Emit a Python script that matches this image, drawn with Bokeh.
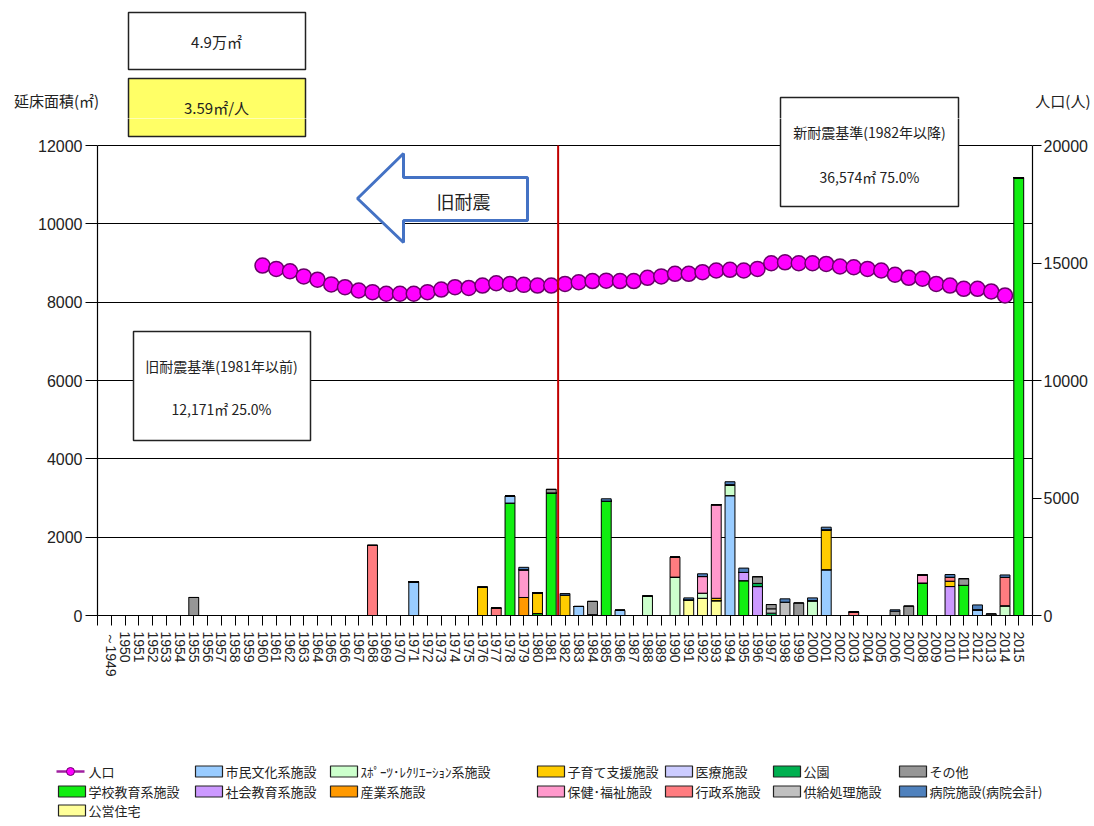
import numpy as np
from bokeh.plotting import figure
from bokeh.models import (ColumnDataSource, Range1d, LinearAxis, FixedTicker,
                          Label, BoxAnnotation)
from bokeh.core.properties import value
from bokeh.embed import file_html
from bokeh.resources import INLINE

# ---------------- data ----------------
categories = ["～1949"] + [str(y) for y in range(1950, 2016)]

pop_years = [str(y) for y in range(1960, 2015)]
population = [14890, 14750, 14650, 14430, 14290, 14090, 13970, 13830, 13760, 13690,
              13690, 13690, 13760, 13870, 13970, 13940, 14040, 14140, 14110, 14070,
              14040, 14040, 14110, 14180, 14230, 14250, 14230, 14230, 14370, 14430,
              14540, 14540, 14610, 14680, 14710, 14680, 14750, 14990, 15030, 14990,
              14990, 14960, 14850, 14820, 14750, 14680, 14500, 14370, 14330, 14110,
              14040, 13900, 13900, 13790, 13620]

school = {"1978": 2870, "1980": 50, "1981": 3130, "1985": 2920, "1995": 890,
          "2008": 830, "2011": 770, "2015": 11180}
housing = {"1991": 400, "1992": 440, "1993": 380}
culture = {"1971": 860, "1978": 180, "1983": 230, "1986": 130, "1994": 3060,
           "2001": 1170, "2012": 150}
social_edu = {"1995": 210, "1996": 740, "2010": 740}
sports = {"1988": 490, "1990": 980, "1992": 130, "1994": 280, "2000": 380, "2014": 250}
industry = {"1979": 460, "1984": 20}
childcare = {"1976": 720, "1980": 530, "1982": 520, "1993": 60, "2001": 1020, "2010": 136}
welfare = {"1979": 710, "1992": 425, "1993": 2390, "2008": 200}
medical = {}
admin = {"1968": 1790, "1977": 190, "1990": 510, "2003": 90, "2010": 100, "2014": 725}
park = {"1996": 80, "1997": 60}
supply = {"1997": 110, "1998": 340}
other = {"1955": 460, "1981": 90, "1984": 340, "1996": 170, "1997": 110, "1999": 320,
         "2006": 110, "2007": 240, "2011": 170, "2013": 40}
hospital = {"1979": 60, "1982": 40, "1985": 60, "1991": 50, "1992": 70, "1994": 75,
            "1995": 110, "1998": 85, "2000": 70, "2001": 65, "2006": 35, "2010": 70,
            "2012": 120, "2014": 60}

series_names = ["学校教育系施設", "公営住宅", "市民文化系施設", "社会教育系施設",
                "ｽﾎﾟｰﾂ･ﾚｸﾘｴｰｼｮﾝ系施設", "産業系施設", "子育て支援施設", "保健･福祉施設",
                "医療施設", "行政系施設", "公園", "供給処理施設", "その他", "病院施設(病院会計)"]
series_data = [school, housing, culture, social_edu, sports, industry, childcare,
               welfare, medical, admin, park, supply, other, hospital]
series_colors = ["#11EE11", "#FFFF99", "#99CCFF", "#CC99FF", "#CCFFCC", "#FF9900",
                 "#FFCC00", "#FF99CC", "#CCCCFF", "#FF7C80", "#00B050", "#C0C0C0",
                 "#969696", "#4F81BD"]

left_ticks = [0, 2000, 4000, 6000, 8000, 10000, 12000]
right_ticks = [0, 5000, 10000, 15000, 20000]

# ---------------- page layout (px) ----------------
W = 1094
TOP_H = 118          # top strip: page y 0..118
MAIN_BOTTOM = 700    # main figure: page y 118..700
PAGE_H = 820         # legend strip: page y 700..820
FL, FR, FT, FB = 97, 1032, 145, 615
N = len(categories)

JP = "Noto Sans CJK JP"
NUM = "Liberation Sans"
INK = "#222222"


def dx(px):
    return -1 + (px - FL) * (N + 1) / (FR - FL)


def dy(py):
    return (FB - py) * left_ticks[-1] / (FB - FT)


def strip(y0, y1):
    f = figure(width=W, height=y1 - y0, x_range=Range1d(0, W), y_range=Range1d(y1, y0),
               output_backend="svg", toolbar_location=None, min_border=0,
               x_axis_type=None, y_axis_type=None)
    f.outline_line_color = None
    f.grid.visible = False
    f.background_fill_color = "white"
    f.border_fill_color = "white"
    return f


top = strip(0, TOP_H)
leg = strip(MAIN_BOTTOM, PAGE_H)

y_end = dy(TOP_H)
p = figure(width=W, height=MAIN_BOTTOM - TOP_H, x_range=Range1d(-1, N),
           y_range=Range1d(0, y_end), output_backend="svg", toolbar_location=None,
           min_border_left=FL, min_border_right=W - FR, min_border_top=0,
           min_border_bottom=MAIN_BOTTOM - FB)
p.outline_line_color = None
p.background_fill_color = "white"
p.border_fill_color = "white"
p.extra_y_ranges = {"pop": Range1d(0, y_end * right_ticks[-1] / left_ticks[-1])}

# axes
ya = p.yaxis[0]
ya.ticker = FixedTicker(ticks=left_ticks)
ya.bounds = (0, left_ticks[-1])
xa = p.xaxis[0]
xa.ticker = FixedTicker(ticks=list(range(-1, N + 1)))
overrides = {i: c for i, c in enumerate(categories)}
overrides[-1] = ""
overrides[N] = ""
xa.major_label_overrides = overrides
xa.major_label_orientation = -np.pi / 2
ra = LinearAxis(y_range_name="pop", ticker=FixedTicker(ticks=right_ticks),
                bounds=(0, right_ticks[-1]))
p.add_layout(ra, "right")

for ax in (xa, ya, ra):
    ax.axis_line_color = "black"
    ax.axis_line_width = 1.2
    ax.major_tick_line_color = "black"
    ax.major_tick_in = 0
    ax.major_tick_out = 10
    ax.minor_tick_line_color = None
    ax.major_label_text_font = NUM
    ax.major_label_text_color = INK
xa.major_label_text_font_size = "14px"
xa.major_label_standoff = 6
ya.major_label_text_font_size = "16px"
ya.major_label_standoff = 3
ya.major_tick_out = 12
ra.major_label_text_font_size = "16px"
ra.major_label_standoff = 2
ra.major_tick_out = 9

p.xgrid.visible = False
p.ygrid.ticker = FixedTicker(ticks=left_ticks)
p.ygrid.grid_line_color = "black"
p.ygrid.grid_line_width = 1.2

# ---------------- bars ----------------
keys = [f"s{i}" for i in range(len(series_names))]
src = {"x": list(range(N))}
for k, d in zip(keys, series_data):
    src[k] = [d.get(c, 0) for c in categories]
source = ColumnDataSource(src)
p.vbar_stack(keys, x="x", width=0.72, fill_color=series_colors, line_color="black",
             line_width=1, source=source)

# ---------------- population ----------------
pop_x = [categories.index(y) for y in pop_years]
p.line(pop_x, population, y_range_name="pop", line_color="#A020A0", line_width=2)
p.scatter(pop_x, population, y_range_name="pop", size=15, fill_color="#FF00FF",
          line_color="#6A006A", line_width=1.5)

# ---------------- divider (1981 | 1982) & arrow ----------------
div_x = categories.index("1981") + 0.5
p.segment(x0=[div_x], y0=[0], x1=[div_x], y1=[left_ticks[-1]],
          line_color="#C00000", line_width=2)

ax_px = [357, 403, 403, 527, 527, 403, 403]
ay_px = [198, 153, 177, 177, 220, 220, 242]
p.patch([dx(v) for v in ax_px], [dy(v) for v in ay_px], fill_color="white",
        line_color="#4472C4", line_width=3)


def mlabel(px, py, s, size="14px"):
    p.add_layout(Label(x=dx(px), y=dy(py), text=s, text_font=JP, text_font_size=size,
                       text_align="center", text_baseline="middle", text_color=INK,
                       level="overlay"))


def mbox(l, t, r, b, fill="white"):
    p.add_layout(BoxAnnotation(left=dx(l), right=dx(r), top=dy(t), bottom=dy(b),
                               fill_color=fill, fill_alpha=1, line_color=INK,
                               line_alpha=1, line_width=1.5, level="overlay"))


def sbox(f, l, t, r, b, fill="white"):
    f.quad(left=[l], right=[r], top=[t], bottom=[b], fill_color=fill,
           line_color=INK, line_width=1.5)


def stext(f, px, py, s, size="14px", align="center", color=INK):
    f.text(x=[px], y=[py], text=[s], text_font=value(JP), text_font_size=value(size),
           text_align=align, text_baseline="middle", text_color=color)


mlabel(463, 200, "旧耐震", "18px")

# boxes (drawn in every strip they cross; each figure clips its own part)
boxes = [(128, 12, 305, 69, "white"), (128, 78, 305, 136, "#FFFF66"),
         (780, 97, 958, 206, "white")]
for l, t, r, b, fc in boxes:
    sbox(top, l, t, r, b, fc)
    mbox(l, t, r, b, fc)
mbox(133, 331, 310, 440)

stext(top, 216, 41, "4.9万㎡", "15px")
stext(top, 216, 107, "3.59㎡/人", "15px")
stext(top, 56, 100, "延床面積(㎡)", "15px")
stext(top, 1090, 100, "人口(人)", "15px", align="right")
mlabel(869, 131, "新耐震基準(1982年以降)")
mlabel(869, 176, "36,574㎡ 75.0%")
mlabel(221, 365, "旧耐震基準(1981年以前)")
mlabel(221, 408, "12,171㎡ 25.0%")

# ---------------- legend ----------------
col_sw = [58, 195, 330, 537, 665, 773, 899]
row_y = [771, 791, 810]
leg.line([56, 84], [row_y[0], row_y[0]], line_color="#A020A0", line_width=2.5)
leg.scatter([70], [row_y[0]], size=8, fill_color="#FF00FF", line_color="#6A006A")
stext(leg, 88, row_y[0], "人口", "13px", align="left")

order_positions = [(0, 1), (0, 2), (1, 0), (1, 1), (2, 0), (2, 1), (3, 0), (3, 1),
                   (4, 0), (4, 1), (5, 0), (5, 1), (6, 0), (6, 1)]
for (ci, ri), name, colr in zip(order_positions, series_names, series_colors):
    sx = col_sw[ci]
    sy = row_y[ri]
    leg.quad(left=[sx], right=[sx + 27], top=[sy - 5.5], bottom=[sy + 5.5],
             fill_color=colr, line_color=INK, line_width=1.2)
    stext(leg, sx + 30, sy, name, "13px", align="left")

# three stacked roots (no frame alignment between them)
open("out.html", "w").write(file_html([top, p, leg], INLINE))
